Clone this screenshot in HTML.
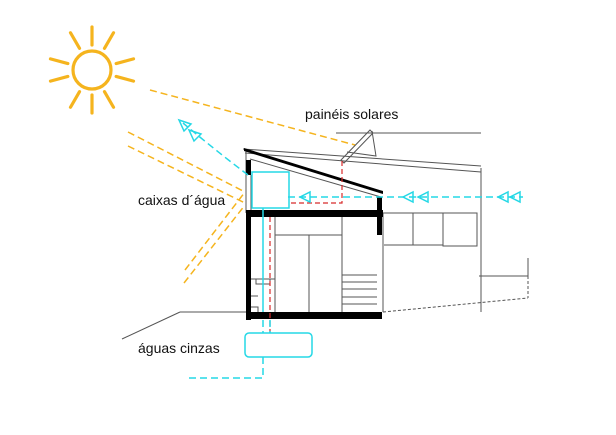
<!DOCTYPE html>
<html><head><meta charset="utf-8"><style>
html,body{margin:0;padding:0;background:#fff}
svg{display:block}
text{font-family:"Liberation Sans",sans-serif;font-size:14px;fill:#111}
</style></head><body>
<svg width="616" height="435" viewBox="0 0 616 435" xmlns="http://www.w3.org/2000/svg">
<g stroke="#f5b41e" stroke-width="3.2" fill="none" stroke-linecap="round">
<circle cx="92" cy="70" r="19"/>
<line x1="92" y1="45" x2="92" y2="27"/>
<line x1="92" y1="95" x2="92" y2="113"/>
<line x1="67" y1="70" x2="49" y2="70" transform="rotate(15 92 70)"/>
<line x1="117" y1="70" x2="135" y2="70" transform="rotate(15 92 70)"/>
<line x1="67" y1="70" x2="49" y2="70" transform="rotate(-15 92 70)"/>
<line x1="117" y1="70" x2="135" y2="70" transform="rotate(-15 92 70)"/>
<line x1="92" y1="45" x2="92" y2="27" transform="rotate(30 92 70)"/>
<line x1="92" y1="45" x2="92" y2="27" transform="rotate(-30 92 70)"/>
<line x1="92" y1="95" x2="92" y2="113" transform="rotate(30 92 70)"/>
<line x1="92" y1="95" x2="92" y2="113" transform="rotate(-30 92 70)"/>
</g>
<g stroke="#f5b41e" stroke-width="1.5" stroke-dasharray="7,4" fill="none">
<line x1="150" y1="90" x2="355" y2="145"/>
<line x1="128" y1="132" x2="245" y2="192"/>
<line x1="128" y1="146" x2="245" y2="203"/>
<line x1="185" y1="270" x2="245" y2="192"/>
<line x1="184" y1="283" x2="245" y2="205"/>
</g>
<g stroke="#555" stroke-width="1" fill="none">
<line x1="336" y1="133" x2="481" y2="133"/>
<line x1="243" y1="149" x2="481" y2="166"/>
<line x1="245" y1="153" x2="481" y2="172"/>
<line x1="250" y1="159" x2="381" y2="197"/>
<line x1="481" y1="168" x2="481" y2="312"/>
<line x1="246" y1="150" x2="246" y2="213"/>
<line x1="251" y1="175" x2="251" y2="213"/>
<rect x="383" y="213" width="60" height="32"/>
<line x1="413" y1="213" x2="413" y2="245"/>
<rect x="443" y="213" width="34" height="33"/>
<line x1="479" y1="276" x2="528" y2="276"/>
<line x1="528" y1="258" x2="528" y2="276"/>
<line x1="383" y1="235" x2="383" y2="312" stroke="#aaa" stroke-width="2"/>
<line x1="122" y1="339" x2="180" y2="312"/>
<line x1="180" y1="312" x2="246" y2="312"/>
<line x1="275" y1="217" x2="275" y2="312"/>
<line x1="309" y1="235" x2="309" y2="312"/>
<line x1="342" y1="217" x2="342" y2="312"/>
<line x1="275" y1="235" x2="342" y2="235"/>
<line x1="342" y1="275" x2="377" y2="275"/>
<line x1="342" y1="282" x2="377" y2="282"/>
<line x1="342" y1="289" x2="377" y2="289"/>
<line x1="342" y1="297" x2="377" y2="297"/>
<line x1="342" y1="304" x2="377" y2="304"/>
<rect x="256" y="279" width="14" height="5"/>
<line x1="251" y1="279" x2="275" y2="279"/>
<line x1="251" y1="296" x2="258" y2="296"/>
<polyline points="251,307 258,307 258,312"/>
<polygon points="341,160 370,130 373,133 344,163"/>
<polyline points="372,131 376,156 347,152"/>
</g>
<g stroke="#555" stroke-width="1" stroke-dasharray="3,2" fill="none">
<line x1="383" y1="312" x2="528" y2="298"/>
<line x1="528" y1="276" x2="528" y2="298"/>
</g>
<g fill="#000">
<polygon points="244,148 383,191 383,194 244,151"/>
<rect x="246" y="160" width="5" height="15"/>
<rect x="246" y="210" width="137" height="7"/>
<rect x="246" y="210" width="5" height="110"/>
<rect x="246" y="312" width="136" height="7"/>
<rect x="377" y="197" width="5" height="38"/>
</g>
<g stroke="#d82a2a" stroke-width="1.2" stroke-dasharray="5,3" fill="none">
<polyline points="342,161 342,203 290,203"/>
<line x1="270" y1="217" x2="270" y2="333"/>
</g>
<g stroke="#25d8e6" stroke-width="1.5" fill="none">
<rect x="252" y="172" width="37" height="36"/>
<line x1="263" y1="208" x2="263" y2="312"/>
<rect x="245" y="333" width="67" height="24" rx="4"/>
<g stroke-dasharray="7,4">
<line x1="288" y1="197" x2="523" y2="197"/>
<path d="M248,175 Q215,150 183,123"/>
<polyline points="263,320 263,333"/>
<polyline points="270,320 270,333"/>
<polyline points="263,357 263,378 188,378"/>
</g>
<polygon points="300,197 310,192 310,202"/>
<polygon points="403,197 413,192 413,202"/>
<polygon points="418,197 428,192 428,202"/>
<polygon points="498,197 508,192 508,202"/>
<polygon points="510,197 520,192 520,202"/>
<polygon points="179,120 191,124 184,131"/>
<polygon points="189,130 201,134 194,141"/>
</g>
<text x="305" y="119">painéis solares</text>
<text x="138" y="205">caixas d´água</text>
<text x="138" y="353">águas cinzas</text>
</svg>
</body></html>
